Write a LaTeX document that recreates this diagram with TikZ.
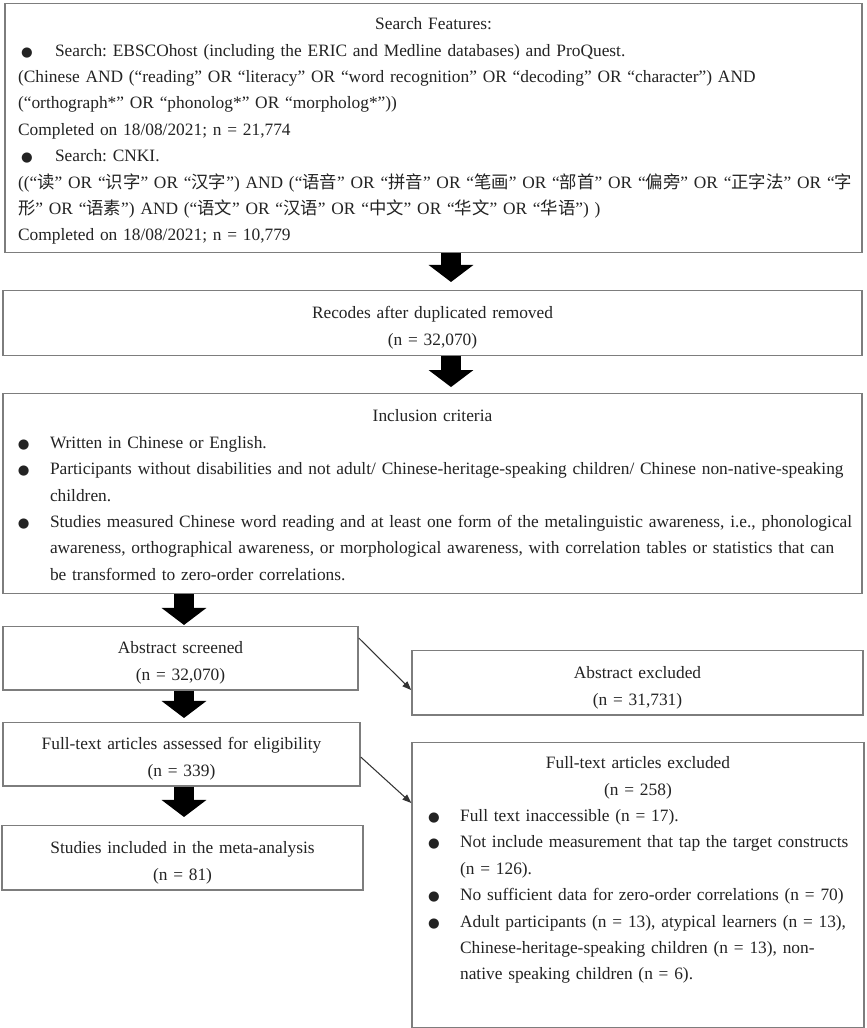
\documentclass[tikz,border=0pt]{standalone}
\usepackage{fontspec}
\setmainfont{Liberation Serif}
\newfontfamily\zhfont{Noto Sans CJK SC}
\newfontfamily\dotfont{DejaVu Sans}
\usepackage{tikz}
\usetikzlibrary{arrows.meta, positioning}
\usepackage{xcolor}
\definecolor{framegray}{RGB}{125,125,125}
\definecolor{inkgray}{RGB}{35,35,35}
\frenchspacing

\newcommand{\zh}[1]{{\zhfont #1}}
\newcommand{\listdot}[1]{\makebox[#1][l]{{\dotfont\fontsize{9}{9}\selectfont ●}}}
\newcommand{\boxhead}[1]{\hspace*{-\leftskip}\makebox[\linewidth]{#1}}

\begin{document}
\begin{tikzpicture}[x=0.674pt, y=-0.674pt,
  flowbox/.style={draw=framegray, line width=1pt, text=inkgray, anchor=north,
    inner xsep=0pt, inner ysep=0pt, font=\fontsize{11.7}{17.8}\selectfont},
  countbox/.style={flowbox, align=center},
  listbox/.style={flowbox, align=left,
    execute at begin node={\leftskip=#1\rightskip=-6pt plus 1fil}},
  blockarrow/.style={line width=13.5pt, -{Triangle[width=29.7pt, length=11.5pt]}},
  sidearrow/.style={draw=black!80, line width=0.7pt, -{Triangle[width=4.5pt, length=6pt]}}]

  \useasboundingbox[fill=white] (0,0) rectangle (867,1028);

  \node[listbox=8.8pt, text width=577.6pt, text height=17.5pt, text depth=150.3pt]
    (search) at (433.5,3) {%
    \boxhead{Search Features:}\\
    \hspace*{2pt}\listdot{22.9pt}Search: EBSCOhost (including the ERIC and Medline databases) and ProQuest.\\
    (Chinese AND (“reading” OR “literacy” OR “word recognition” OR “decoding” OR “character”) AND\\
    (“orthograph*” OR “phonolog*” OR “morpholog*”))\\
    Completed on 18/08/2021; n = 21,774\\
    \hspace*{2pt}\listdot{22.9pt}Search: CNKI.\\
    ((“\zh{读}” OR “\zh{识字}” OR “\zh{汉字}”) AND (“\zh{语音}” OR “\zh{拼音}” OR “\zh{笔画}” OR “\zh{部首}” OR “\zh{偏旁}” OR “\zh{正字法}” OR “\zh{字}\\
    \zh{形}” OR “\zh{语素}”) AND (“\zh{语文}” OR “\zh{汉语}” OR “\zh{中文}” OR “\zh{华文}” OR “\zh{华语}”) )\\
    Completed on 18/08/2021; n = 10,779};

  \node[countbox, text width=579pt, text height=18.9pt, text depth=24.9pt]
    (dedup) at (432.5,290) {Recodes after duplicated removed\\(n = 32,070)};

  \node[listbox=10.1pt, text width=579pt, text height=18.9pt, text depth=115.9pt]
    (incl) at (432.5,393) {%
    \boxhead{Inclusion criteria}\\
    \listdot{21.6pt}Written in Chinese or English.\\
    \listdot{21.6pt}Participants without disabilities and not adult/ Chinese-heritage-speaking children/ Chinese non-native-speaking\\
    \hspace*{21.6pt}children.\\
    \listdot{21.6pt}Studies measured Chinese word reading and at least one form of the metalinguistic awareness, i.e., phonological\\
    \hspace*{21.6pt}awareness, orthographical awareness, or morphological awareness, with correlation tables or statistics that can\\
    \hspace*{21.6pt}be transformed to zero-order correlations.};

  \node[countbox, text width=239.3pt, text height=18.2pt, text depth=24.3pt]
    (absscr) at (180.5,626) {Abstract screened\\(n = 32,070)};
  \node[countbox, text width=304pt, text height=18.9pt, text depth=24.3pt]
    (absexc) at (637.5,650) {Abstract excluded\\(n = 31,731)};
  \node[countbox, text width=240.6pt, text height=18.2pt, text depth=24.3pt]
    (fulltxt) at (181.5,722) {Full-text articles assessed for eligibility\\(n = 339)};
  \node[countbox, text width=243.3pt, text height=18.9pt, text depth=24.3pt]
    (incmeta) at (182.5,825) {Studies included in the meta-analysis\\(n = 81)};

  \node[listbox=10.8pt, text width=304.6pt, text height=17.5pt, text depth=174.6pt]
    (ftexc) at (638,742) {%
    \boxhead{Full-text articles excluded}\\
    \boxhead{(n = 258)}\\
    \listdot{21.6pt}Full text inaccessible (n = 17).\\
    \listdot{21.6pt}Not include measurement that tap the target constructs\\
    \hspace*{21.6pt}(n = 126).\\
    \listdot{21.6pt}No sufficient data for zero-order correlations (n = 70)\\
    \listdot{21.6pt}Adult participants (n = 13), atypical learners (n = 13),\\
    \hspace*{21.6pt}Chinese-heritage-speaking children (n = 13), non-\\
    \hspace*{21.6pt}native speaking children (n = 6).};

  \coordinate (colA) at (451,0);
  \coordinate (colB) at (184,0);

  \draw[blockarrow, shorten >=5.4pt] (search.south -| colA) -- (dedup.north -| colA);
  \draw[blockarrow, shorten >=4pt] (dedup.south -| colA) -- (incl.north -| colA);
  \draw[blockarrow, shorten >=0.7pt] (incl.south -| colB) -- (absscr.north -| colB);
  \draw[blockarrow, shorten >=2.7pt] (absscr.south -| colB) -- (fulltxt.north -| colB);
  \draw[blockarrow, shorten >=5.4pt] (fulltxt.south -| colB) -- (incmeta.north -| colB);

  \draw[sidearrow] ([yshift=-8.1pt]absscr.north east) -- ([yshift=-27pt]absexc.north west);
  \draw[sidearrow] ([yshift=-23.6pt]fulltxt.north east) -- ([yshift=-41.1pt]ftexc.north west);
\end{tikzpicture}
\end{document}
